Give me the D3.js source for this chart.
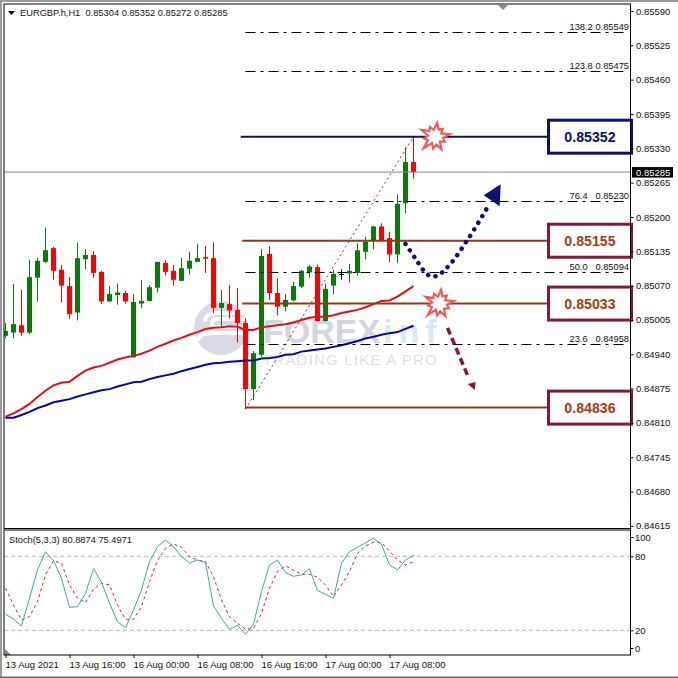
<!DOCTYPE html>
<html>
<head>
<meta charset="utf-8">
<script src="https://d3js.org/d3.v7.min.js"></script>
<style>
    html, body { margin: 0; padding: 0; background: #fff; }
    svg { display: block; }
    text { font-family: "Liberation Sans", Arial, sans-serif; }
</style>
</head>
<body>
<div id="chart"></div>
<script>
var width = 678,
    height = 678;

// candles, bar 0 is 13 Aug 08:00, one bar per hour
var opens = [0.84975, 0.84981, 0.84995, 0.84981, 0.85085, 0.85115, 0.85141, 0.85100, 0.85069, 0.85019, 0.85120, 0.85128, 0.85096,
    0.85040, 0.85052, 0.85056, 0.84934, 0.85036, 0.85041, 0.85066, 0.85113, 0.85098, 0.85079, 0.85102, 0.85115, 0.85124,
    0.85122, 0.85028, 0.85035, 0.85024, 0.84999, 0.84874, 0.84939, 0.85130, 0.85056, 0.85030, 0.85042, 0.85068, 0.85095,
    0.85105, 0.85003, 0.85070, 0.85092, 0.85093, 0.85094, 0.85134, 0.85155, 0.85182, 0.85160, 0.85129, 0.85226, 0.85304];
var highs = [0.84999, 0.85073, 0.85062, 0.85119, 0.85122, 0.85180, 0.85143, 0.85109, 0.85086, 0.85151, 0.85139, 0.85135, 0.85098,
    0.85069, 0.85074, 0.85060, 0.85054, 0.85081, 0.85071, 0.85115, 0.85118, 0.85109, 0.85122, 0.85134, 0.85149, 0.85145,
    0.85152, 0.85062, 0.85071, 0.85065, 0.85008, 0.84946, 0.85139, 0.85145, 0.85084, 0.85054, 0.85077, 0.85100, 0.85109,
    0.85110, 0.85074, 0.85100, 0.85101, 0.85111, 0.85150, 0.85162, 0.85183, 0.85188, 0.85172, 0.85243, 0.85332, 0.85352];
var lows = [0.84970, 0.84970, 0.84975, 0.84978, 0.85040, 0.85113, 0.85081, 0.85038, 0.85007, 0.85004, 0.85101, 0.85085, 0.85035,
    0.85040, 0.85034, 0.85036, 0.84934, 0.85027, 0.85040, 0.85057, 0.85089, 0.85070, 0.85079, 0.85091, 0.85115, 0.85094,
    0.85018, 0.84990, 0.85008, 0.84962, 0.84836, 0.84853, 0.84935, 0.85043, 0.85014, 0.85021, 0.85040, 0.85065, 0.85085,
    0.85002, 0.85002, 0.85054, 0.85081, 0.85076, 0.85089, 0.85120, 0.85139, 0.85155, 0.85115, 0.85113, 0.85207, 0.85272];
var closes = [0.84984, 0.84997, 0.84981, 0.85086, 0.85117, 0.85137, 0.85098, 0.85070, 0.85016, 0.85122, 0.85128, 0.85094, 0.85040,
    0.85054, 0.85057, 0.85040, 0.85039, 0.85041, 0.85067, 0.85115, 0.85096, 0.85081, 0.85103, 0.85117, 0.85122, 0.85121,
    0.85028, 0.85037, 0.85023, 0.84999, 0.84874, 0.84942, 0.85126, 0.85056, 0.85030, 0.85043, 0.85069, 0.85098, 0.85106,
    0.85003, 0.85064, 0.85092, 0.85092, 0.85098, 0.85137, 0.85153, 0.85182, 0.85155, 0.85129, 0.85225, 0.85304, 0.85285];

// moving averages
var maFast = [0.84822, 0.84828, 0.84836, 0.84846, 0.84859, 0.84871, 0.84881, 0.84886, 0.84888, 0.84899, 0.84909, 0.84915, 0.84918,
    0.84924, 0.84930, 0.84934, 0.84937, 0.84941, 0.84947, 0.84954, 0.84960, 0.84966, 0.84971, 0.84977, 0.84982, 0.84988,
    0.84990, 0.84991, 0.84993, 0.84992, 0.84986, 0.84986, 0.84991, 0.84993, 0.84995, 0.84997, 0.85000, 0.85005, 0.85009,
    0.85011, 0.85011, 0.85014, 0.85018, 0.85021, 0.85024, 0.85029, 0.85035, 0.85041, 0.85042, 0.85049, 0.85059, 0.85069];
var maSlow = [0.84820, 0.84820, 0.84825, 0.84831, 0.84838, 0.84843, 0.84849, 0.84852, 0.84855, 0.84860, 0.84864, 0.84868, 0.84872,
    0.84874, 0.84879, 0.84883, 0.84887, 0.84888, 0.84893, 0.84897, 0.84900, 0.84903, 0.84908, 0.84912, 0.84916, 0.84920,
    0.84923, 0.84924, 0.84926, 0.84927, 0.84928, 0.84928, 0.84932, 0.84933, 0.84935, 0.84939, 0.84940, 0.84945, 0.84947,
    0.84949, 0.84951, 0.84954, 0.84957, 0.84961, 0.84965, 0.84970, 0.84973, 0.84977, 0.84980, 0.84982, 0.84988, 0.84994];

// stochastic
var stochMain = [33, 29.2, 23.5, 46, 69, 83.8, 76.5, 62.2, 38.6, 39.2, 50, 70, 59, 42, 27, 22, 36.5, 52.7, 75.7, 87.8, 93.2, 87.8, 79.7,
    74.6, 77, 74.9, 39.7, 29.7, 20.8, 24, 16.8, 25.1, 51.4, 73, 76.8, 66.8, 63.8, 64.9, 70, 52.2, 49.2, 46, 74.3, 83.8, 87.3,
    91, 94.6, 89.7, 73, 68.9, 77, 80.8874];
var stochSignal = [54.1, 40.5, 28.4, 31.1, 43.2, 64.9, 76.5, 74.3, 56.8, 46, 42.4, 53.5, 58.1, 56.8, 40.5, 28.9, 28.9, 39.2, 59.5, 76.5,
    86.5, 90, 87.3, 79.7, 77, 75.7, 63.5, 44.6, 31.1, 25.7, 20.8, 21.6, 33.8, 54.1, 67.6, 72.2, 68.9, 65.4, 65.4, 63, 56.8,
    47.3, 56.8, 67.6, 82.4, 88.4, 91.4, 91.1, 84.3, 77, 73, 75.4971];

// axes
var priceTicks = [0.85590, 0.85525, 0.85460, 0.85395, 0.85330, 0.85265, 0.85200, 0.85135, 0.85070, 0.85005, 0.84940, 0.84875, 0.84810, 0.84745, 0.84680, 0.84615];
var timeTickBars = [0, 8, 16, 24, 32, 40, 48];
var timeTickLabels = ["13 Aug 2021", "13 Aug 16:00", "16 Aug 00:00", "16 Aug 08:00", "16 Aug 16:00", "17 Aug 00:00", "17 Aug 08:00"];
var stochTicks = [100, 80, 20, 0];
var stochLevels = [80, 20];

// levels
var fiboLevels = ["138.2", "123.8", "76.4", "50.0", "23.6"];
var fiboPrices = [0.85549, 0.85475, 0.85230, 0.85094, 0.84958];
var keyLabels = ["0.85352", "0.85155", "0.85033", "0.84836"];
// the drawn lines sit slightly off the printed labels on the lower two
var keyPrices = [0.85352, 0.85155, 0.85036, 0.84839];
var keyStartBars = [29.4, 29.6, 29.6, 30];
var currentPrice = 0.85285;
var swingBars = [30, 51];
var swingPrices = [0.84836, 0.85352];

// forecast paths, in bars and prices
var upPathBars = [50, 51.3, 52.3, 53.1, 54, 55.5, 57.9, 60.4];
var upPathPrices = [0.85149, 0.85120, 0.85098, 0.85088, 0.85089, 0.85109, 0.85160, 0.85222];
var downPathBars = [55.25, 57.9];
var downPathPrices = [0.84990, 0.84895];
var starRadii = [14, 8, 11, 7, 15, 8, 11, 7, 14, 8, 12, 7, 16, 8, 11, 7, 15, 8, 11, 7];

var plotLeft = 4,
    plotRight = 630.5,
    mainTop = 4,
    mainBottom = 528.5,
    stochTop = 530,
    stochBottom = 655,
    bodyWidth = 5;

var navy = "#10106e",
    maroon = "#84183c",
    brown = "#8c3a1c",
    brownText = "#a83c14",
    green = "#0a7a0a",
    red = "#ff0000";

var x = d3.scaleLinear().domain([0, 51]).range([5.5, 413.5]);
var y = d3.scaleLinear().domain([0.85590, 0.84615]).range([11, 525.9]);
var yStoch = d3.scaleLinear().domain([80, 20]).range([556.3, 630.3]);
var yStochAxis = d3.scaleLinear().domain([100, 80, 20, 0]).range([537, 556.3, 630.3, 648]);

var svg = d3.select("#chart").append("svg")
    .attr("width", width)
    .attr("height", height);

svg.append("rect").attr("width", width).attr("height", height).attr("fill", "#fff");

// window edge
svg.append("rect").attr("x", 0).attr("y", 0).attr("width", 2).attr("height", height).attr("fill", "#9a9a9a");
svg.append("rect").attr("x", 0).attr("y", 0).attr("width", width).attr("height", 2).attr("fill", "#9a9a9a");
svg.append("rect").attr("x", 0).attr("y", 676.5).attr("width", width).attr("height", 1.5).attr("fill", "#6a6a6a");

var defs = svg.append("defs");
defs.append("clipPath").attr("id", "clipMain").append("rect")
    .attr("x", plotLeft).attr("y", mainTop).attr("width", plotRight - plotLeft).attr("height", mainBottom - mainTop);
defs.append("clipPath").attr("id", "clipStoch").append("rect")
    .attr("x", plotLeft).attr("y", stochTop).attr("width", plotRight - plotLeft).attr("height", stochBottom - stochTop);

var main = svg.append("g").attr("clip-path", "url(#clipMain)");

// watermark
var mark = main.append("g").attr("class", "watermark");
mark.append("circle").attr("cx", 221).attr("cy", 328).attr("r", 27).attr("fill", "#d9dae6");
mark.append("path").attr("d", "M205,322 Q205,313 216,313 L250,313 L250,319 L217,319 Q212,319 212,323 L212,327 L250,327 L250,333 L212,333 Q198,333 198,341")
    .attr("fill", "none").attr("stroke", "#fff").attr("stroke-width", 4);
mark.append("text").attr("x", 263).attr("y", 343)
    .attr("font-size", 34).attr("font-weight", "bold").attr("fill", "#d3d6e2")
    .text("FOREX");
mark.append("text").attr("x", 383).attr("y", 343)
    .attr("font-size", 34).attr("font-weight", "bold").attr("fill", "#d8e9f5")
    .style("letter-spacing", "6px").text("inf");
mark.append("text").attr("x", 263).attr("y", 364.5)
    .attr("font-size", 15).attr("fill", "#dfdfe2")
    .style("letter-spacing", "1.2px").text("TRADING LIKE A PRO");

// candles
var candles = main.append("g").selectAll("g")
    .data(opens)
    .enter()
    .append("g");

var candleColor = function (d, i) {
    if (opens[i] == closes[i]) return "#000";
    return closes[i] > opens[i] ? green : red;
};

candles.append("line")
    .attr("x1", function (d, i) { return x(i); })
    .attr("x2", function (d, i) { return x(i); })
    .attr("y1", function (d, i) { return y(highs[i]); })
    .attr("y2", function (d, i) { return y(lows[i]); })
    .style("stroke", candleColor)
    .style("stroke-width", 1);

candles.append("rect")
    .attr("x", function (d, i) { return x(i) - bodyWidth / 2; })
    .attr("width", bodyWidth)
    .attr("y", function (d, i) { return y(Math.max(opens[i], closes[i])); })
    .attr("height", function (d, i) { return Math.max(1, Math.abs(y(opens[i]) - y(closes[i]))); })
    .style("fill", candleColor);

// moving averages
var maLine = d3.line()
    .x(function (d, i) { return x(i); })
    .y(function (d) { return y(d); });

main.append("path").attr("d", maLine(maFast))
    .attr("fill", "none").style("stroke", "#e2101e").style("stroke-width", 2);
main.append("path").attr("d", maLine(maSlow))
    .attr("fill", "none").style("stroke", "#0606a6").style("stroke-width", 2);

// current price
main.append("line")
    .attr("x1", plotLeft).attr("x2", plotRight)
    .attr("y1", y(currentPrice)).attr("y2", y(currentPrice))
    .style("stroke", "#7c8794").style("stroke-width", 1);

// fibonacci
main.selectAll(".fibo")
    .data(fiboPrices)
    .enter()
    .append("line")
    .attr("class", "fibo")
    .attr("x1", x(swingBars[0]))
    .attr("x2", plotRight - 2)
    .attr("y1", function (d) { return Math.floor(y(d)) + 0.5; })
    .attr("y2", function (d) { return Math.floor(y(d)) + 0.5; })
    .style("stroke", "#000")
    .style("stroke-dasharray", "10,5,3,5");

main.append("line")
    .attr("x1", x(swingBars[0])).attr("x2", x(swingBars[1]))
    .attr("y1", y(swingPrices[0])).attr("y2", y(swingPrices[1]))
    .style("stroke", "#c02020").style("stroke-dasharray", "2,3");

svg.selectAll(".fiboLevel")
    .data(fiboLevels)
    .enter()
    .append("text")
    .attr("class", "fiboLevel")
    .attr("x", 569.5)
    .attr("y", function (d, i) { return y(fiboPrices[i]) - 2.5; })
    .attr("font-size", 9.3)
    .attr("fill", "#111")
    .text(function (d) { return d; });

svg.selectAll(".fiboPrice")
    .data(fiboPrices)
    .enter()
    .append("text")
    .attr("class", "fiboPrice")
    .attr("x", 629)
    .attr("y", function (d) { return y(d) - 2.5; })
    .attr("text-anchor", "end")
    .attr("font-size", 9.3)
    .attr("fill", "#111")
    .text(function (d) { return d.toFixed(5); });

// key levels with their boxes
main.selectAll(".key")
    .data(keyPrices)
    .enter()
    .append("line")
    .attr("class", "key")
    .attr("x1", function (d, i) { return x(keyStartBars[i]); })
    .attr("x2", 548)
    .attr("y1", function (d) { return y(d); })
    .attr("y2", function (d) { return y(d); })
    .style("stroke", function (d, i) { return i == 0 ? navy : brown; })
    .style("stroke-width", 2);

var boxes = svg.selectAll(".keyBox")
    .data(keyPrices)
    .enter()
    .append("g")
    .attr("class", "keyBox");

boxes.append("rect")
    .attr("x", 548.5)
    .attr("width", 83)
    .attr("y", function (d) { return y(d) - 16.5; })
    .attr("height", 33)
    .attr("fill", "#fff")
    .style("stroke", function (d, i) { return i == 0 ? navy : maroon; })
    .style("stroke-width", 3);

boxes.append("text")
    .attr("x", 590)
    .attr("y", function (d) { return y(d) + 5; })
    .attr("text-anchor", "middle")
    .attr("font-size", 14.2)
    .attr("font-weight", "bold")
    .attr("fill", function (d, i) { return i == 0 ? navy : brownText; })
    .text(function (d, i) { return keyLabels[i]; });

// stars on the two reaction levels
var starPath = d3.lineRadial()
    .angle(function (d, i) { return i / starRadii.length * 2 * Math.PI + 0.15; })
    .radius(function (d) { return d; })
    .curve(d3.curveLinearClosed);

[[435, y(keyPrices[0])], [439, y(keyPrices[2])]].forEach(function (c) {
    svg.append("path")
        .attr("d", starPath(starRadii))
        .attr("transform", "translate(" + c[0] + "," + c[1] + ")")
        .attr("fill", "#fff")
        .style("stroke", "#f25a5a")
        .style("stroke-width", 2.2);
});

// forecast arrows
var pathLine = d3.line()
    .x(function (d) { return x(d[0]); })
    .y(function (d) { return y(d[1]); })
    .curve(d3.curveCatmullRom);

svg.append("path")
    .attr("d", pathLine(upPathBars.map(function (b, i) { return [b, upPathPrices[i]]; })))
    .attr("fill", "none")
    .style("stroke", navy)
    .style("stroke-width", 4.5)
    .style("stroke-linecap", "round")
    .style("stroke-dasharray", "0.1,7.6");

var upTipX = x(upPathBars[upPathBars.length - 1]),
    upTipY = y(upPathPrices[upPathPrices.length - 1]);
svg.append("path")
    .attr("d", "M" + (upTipX + 12) + "," + (upTipY - 21) + "L" + (upTipX - 5) + "," + (upTipY - 10) + "L" + (upTipX + 11) + "," + (upTipY + 1) + "Z")
    .attr("fill", navy);

svg.append("path")
    .attr("d", pathLine(downPathBars.map(function (b, i) { return [b, downPathPrices[i]]; })))
    .attr("fill", "none")
    .style("stroke", maroon)
    .style("stroke-width", 3.5)
    .style("stroke-dasharray", "7,4");

var downTipX = x(downPathBars[1]),
    downTipY = y(downPathPrices[1]);
svg.append("path")
    .attr("d", "M" + (downTipX - 1) + "," + (downTipY + 6) + "L" + (downTipX + 7) + "," + (downTipY + 4) + "L" + (downTipX + 6) + "," + (downTipY + 12) + "Z")
    .attr("fill", maroon);

// stochastic pane
var stoch = svg.append("g").attr("clip-path", "url(#clipStoch)");

stoch.selectAll(".stochLevel")
    .data(stochLevels)
    .enter()
    .append("line")
    .attr("class", "stochLevel")
    .attr("x1", plotLeft).attr("x2", plotRight)
    .attr("y1", function (d) { return yStoch(d); })
    .attr("y2", function (d) { return yStoch(d); })
    .style("stroke", "#b8b8b8")
    .style("stroke-dasharray", "4,3");

var stochLine = d3.line()
    .x(function (d, i) { return x(i); })
    .y(function (d) { return yStoch(d); });

stoch.append("path").attr("d", stochLine(stochSignal))
    .attr("fill", "none").style("stroke", "#d02030").style("stroke-dasharray", "3,3");
stoch.append("path").attr("d", stochLine(stochMain))
    .attr("fill", "none").style("stroke", "#3aa8a8");

stoch.append("path").attr("d", "M5,649L5,655L11,655Z").attr("fill", "#808080");

// frames
svg.append("rect")
    .attr("x", plotLeft).attr("y", mainTop)
    .attr("width", plotRight - plotLeft).attr("height", mainBottom - mainTop)
    .attr("fill", "none").style("stroke", "#000");
svg.append("rect")
    .attr("x", plotLeft).attr("y", stochTop)
    .attr("width", plotRight - plotLeft).attr("height", stochBottom - stochTop)
    .attr("fill", "none").style("stroke", "#000");

// marker at the top of the chart
svg.append("path").attr("d", "M498,5L508,5L503,10Z").attr("fill", "#808890");

// price axis
var priceAxis = d3.axisRight(y)
    .tickValues(priceTicks)
    .tickFormat(d3.format(".5f"))
    .tickSize(3)
    .tickPadding(2.5);

var priceG = svg.append("g").attr("transform", "translate(" + plotRight + ",0)").call(priceAxis);
priceG.select(".domain").remove();
priceG.selectAll("text").attr("font-size", 9.5).attr("fill", "#111").style("font-family", "'Liberation Sans', Arial, sans-serif");

// current price tag
svg.append("rect").attr("x", 632).attr("y", y(currentPrice) - 5).attr("width", 41).attr("height", 10.5).attr("fill", "#000");
svg.append("text").attr("x", 636).attr("y", y(currentPrice) + 3.5)
    .attr("font-size", 9.5).attr("fill", "#fff").text(currentPrice.toFixed(5));

// stochastic axis
var stochAxis = d3.axisRight(yStochAxis)
    .tickValues(stochTicks)
    .tickSize(3)
    .tickPadding(1.5);

var stochG = svg.append("g").attr("transform", "translate(" + plotRight + ",0)").call(stochAxis);
stochG.select(".domain").remove();
stochG.selectAll("text").attr("font-size", 9.5).attr("fill", "#111").style("font-family", "'Liberation Sans', Arial, sans-serif");

// time axis
var timeAxis = d3.axisBottom(x)
    .tickValues(timeTickBars)
    .tickFormat(function (d, i) { return timeTickLabels[i]; })
    .tickSize(3)
    .tickPadding(3);

var timeG = svg.append("g").attr("transform", "translate(0," + stochBottom + ")").call(timeAxis);
timeG.select(".domain").remove();
timeG.selectAll("text")
    .attr("text-anchor", "start")
    .attr("dx", -0.5)
    .attr("font-size", 9.5)
    .attr("fill", "#111")
    .style("font-family", "'Liberation Sans', Arial, sans-serif");

// titles
svg.append("path").attr("d", "M8,11L15,11L11.5,15Z").attr("fill", "#000");
svg.append("text").attr("x", 20).attr("y", 16).attr("font-size", 9.3).attr("fill", "#111")
    .style("white-space", "pre")
    .text("EURGBP.h,H1  " + [opens[51], highs[51], lows[51], closes[51]].map(function (d) { return d.toFixed(5); }).join(" "));
svg.append("text").attr("x", 9).attr("y", 543).attr("font-size", 9.3).attr("fill", "#111")
    .text("Stoch(5,3,3) " + stochMain[51] + " " + stochSignal[51]);
</script>
</body>
</html>
